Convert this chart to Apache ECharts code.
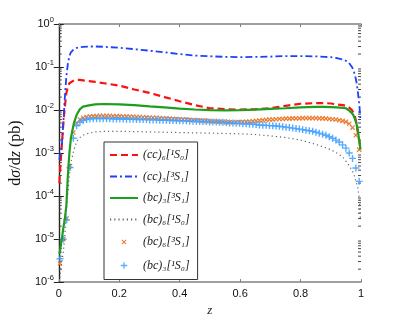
<!DOCTYPE html>
<html>
<head>
<meta charset="utf-8">
<script src="https://cdn.jsdelivr.net/npm/echarts@6/dist/echarts.min.js"></script>
<style>
  html, body { margin: 0; padding: 0; background: #fff; }
  #chart { width: 399px; height: 322px; }
</style>
</head>
<body>
<div id="chart"></div>
<script>
// z grid of the line curves
const zLine = [0.002, 0.005, 0.01, 0.015, 0.02, 0.025, 0.03, 0.035, 0.04, 0.05, 0.06, 0.07, 0.08,
  0.1, 0.12, 0.15, 0.2, 0.25, 0.3, 0.35, 0.4, 0.45, 0.5, 0.55, 0.6, 0.65, 0.7, 0.75, 0.8, 0.85,
  0.88, 0.9, 0.92, 0.94, 0.95, 0.96, 0.97, 0.975, 0.98, 0.985, 0.99, 0.995, 0.998];

const cc6_1S0 = [2e-4, 5e-4, 1.5e-3, 5e-3, 0.012, 0.025, 0.035, 0.042, 0.046, 0.049, 0.05, 0.05, 0.049,
  0.047, 0.045, 0.042, 0.037, 0.03, 0.025, 0.02, 0.016, 0.013, 0.011, 0.0105, 0.0102, 0.0105, 0.011, 0.0125, 0.014, 0.0145,
  0.0145, 0.0142, 0.0135, 0.013, 0.0125, 0.0115, 0.01, 0.0085, 0.007, 0.005, 0.0028, 0.0018, 0.0013];

const cc3_3S1 = [7e-4, 1e-3, 1.5e-3, 5e-3, 0.02, 0.06, 0.12, 0.18, 0.22, 0.26, 0.28, 0.29, 0.295,
  0.3, 0.3, 0.295, 0.28, 0.26, 0.24, 0.22, 0.2, 0.185, 0.178, 0.172, 0.17, 0.172, 0.175, 0.18, 0.18, 0.177,
  0.172, 0.17, 0.162, 0.15, 0.14, 0.125, 0.1, 0.085, 0.065, 0.045, 0.025, 0.012, 0.006];

const bc3_3S1 = [4.5e-6, 6e-6, 1e-5, 1.8e-5, 3e-5, 6e-5, 3e-4, 1e-3, 2.2e-3, 5e-3, 8e-3, 0.0105, 0.012,
  0.0128, 0.0135, 0.0138, 0.0135, 0.013, 0.0122, 0.0115, 0.0108, 0.0103, 0.01, 0.0098, 0.0099, 0.0102, 0.0106, 0.011, 0.0115, 0.0118,
  0.0118, 0.0117, 0.0115, 0.0112, 0.011, 0.0098, 0.0085, 0.0075, 0.0062, 0.0048, 0.0032, 0.0018, 0.0012];

const bc6_1S0 = [1e-6, 1.5e-6, 3e-6, 5e-6, 1.2e-5, 5e-5, 1.2e-4, 3e-4, 6e-4, 1.2e-3, 1.9e-3, 2.3e-3, 2.6e-3,
  2.9e-3, 3.1e-3, 3.2e-3, 3.2e-3, 3.15e-3, 3.1e-3, 3.05e-3, 3e-3, 2.95e-3, 2.9e-3, 2.85e-3, 2.8e-3, 2.7e-3, 2.5e-3, 2.3e-3, 2e-3, 1.6e-3,
  1.35e-3, 1.2e-3, 1e-3, 8e-4, 6.5e-4, 5.2e-4, 4e-4, 3.4e-4, 2.7e-4, 2e-4, 1.5e-4, 8e-5, 3e-5];

// z grid of the marker series
const zMark = [0.004, 0.015, 0.026, 0.037, 0.048, 0.059, 0.07, 0.081, 0.092, 0.103,
  0.114, 0.125, 0.136, 0.147, 0.158, 0.169, 0.18, 0.191, 0.202, 0.213,
  0.224, 0.235, 0.246, 0.257, 0.268, 0.279, 0.29, 0.301, 0.312, 0.323,
  0.334, 0.345, 0.356, 0.367, 0.378, 0.389, 0.4, 0.411, 0.422, 0.433,
  0.444, 0.455, 0.466, 0.477, 0.488, 0.499, 0.51, 0.521, 0.532, 0.543,
  0.554, 0.565, 0.576, 0.587, 0.598, 0.609, 0.62, 0.631, 0.642, 0.653,
  0.664, 0.675, 0.686, 0.697, 0.708, 0.719, 0.73, 0.741, 0.752, 0.763,
  0.774, 0.785, 0.796, 0.807, 0.818, 0.829, 0.84, 0.851, 0.862, 0.873,
  0.884, 0.895, 0.906, 0.917, 0.928, 0.939, 0.95, 0.961, 0.972, 0.983, 0.994];

const bc6_3S1 = [2.7e-6, 1e-5, 3e-5, 5e-4, 3e-3, 5e-3, 6e-3, 6.6e-3, 6.9e-3, 7.1e-3,
  7.2e-3, 7.2e-3, 7.3e-3, 7.3e-3, 7.3e-3, 7.3e-3, 7.2e-3, 7.2e-3, 7.2e-3, 7.1e-3,
  7.1e-3, 7.0e-3, 7.0e-3, 6.9e-3, 6.9e-3, 6.8e-3, 6.8e-3, 6.7e-3, 6.6e-3, 6.6e-3,
  6.5e-3, 6.4e-3, 6.4e-3, 6.3e-3, 6.2e-3, 6.2e-3, 6.1e-3, 6.0e-3, 6.0e-3, 5.9e-3,
  5.8e-3, 5.8e-3, 5.7e-3, 5.6e-3, 5.6e-3, 5.5e-3, 5.4e-3, 5.4e-3, 5.3e-3, 5.3e-3,
  5.2e-3, 5.2e-3, 5.2e-3, 5.2e-3, 5.2e-3, 5.3e-3, 5.3e-3, 5.4e-3, 5.5e-3, 5.6e-3,
  5.7e-3, 5.8e-3, 5.9e-3, 6.0e-3, 6.0e-3, 6.1e-3, 6.2e-3, 6.2e-3, 6.3e-3, 6.3e-3,
  6.4e-3, 6.4e-3, 6.4e-3, 6.5e-3, 6.5e-3, 6.5e-3, 6.5e-3, 6.5e-3, 6.4e-3, 6.4e-3,
  6.3e-3, 6.2e-3, 6.1e-3, 6.0e-3, 5.8e-3, 5.6e-3, 5.3e-3, 4.8e-3, 3.9e-3, 2.6e-3, 1.2e-3];

const bc3_1S0 = [3.5e-6, 1e-5, 2.8e-5, 4.6e-4, 2.2e-3, 4.3e-3, 5.2e-3, 5.7e-3, 6.0e-3, 6.2e-3,
  6.3e-3, 6.3e-3, 6.3e-3, 6.3e-3, 6.3e-3, 6.3e-3, 6.2e-3, 6.2e-3, 6.2e-3, 6.2e-3,
  6.1e-3, 6.1e-3, 6.1e-3, 6.0e-3, 6.0e-3, 6.0e-3, 6.0e-3, 5.9e-3, 5.9e-3, 5.9e-3,
  5.8e-3, 5.8e-3, 5.8e-3, 5.7e-3, 5.7e-3, 5.7e-3, 5.6e-3, 5.6e-3, 5.6e-3, 5.5e-3,
  5.5e-3, 5.5e-3, 5.4e-3, 5.4e-3, 5.4e-3, 5.3e-3, 5.3e-3, 5.3e-3, 5.2e-3, 5.2e-3,
  5.1e-3, 5.0e-3, 5.0e-3, 4.9e-3, 4.9e-3, 4.8e-3, 4.8e-3, 4.7e-3, 4.7e-3, 4.6e-3,
  4.5e-3, 4.45e-3, 4.4e-3, 4.35e-3, 4.3e-3, 4.25e-3, 4.2e-3, 4.1e-3, 4.0e-3, 3.9e-3,
  3.8e-3, 3.7e-3, 3.6e-3, 3.5e-3, 3.4e-3, 3.3e-3, 3.2e-3, 3.05e-3, 2.9e-3, 2.75e-3,
  2.6e-3, 2.4e-3, 2.2e-3, 2.0e-3, 1.8e-3, 1.55e-3, 1.3e-3, 1.0e-3, 7.5e-4, 4.5e-4, 2.2e-4];

const yMin = 1e-6;
const yMax = 1;

const names = ['(cc)₆[¹S₀]', '(cc)₃[³S₁]', '(bc)₃[³S₁]', '(bc)₆[¹S₀]', '(bc)₆[³S₁]', '(bc)₃[¹S₀]'];

const zip = (xs, ys) => xs.map((x, i) => [x, ys[i]]);

// minor ticks of the log axis (2..9 x 10^k)
const minorTicks = [];
for (let e = -6; e < 0; e++) {
  for (let m = 2; m <= 9; m++) minorTicks.push([0, m * Math.pow(10, e)]);
}

const plusPath = 'path://M4,0h2v4h4v2h-4v4h-2v-4h-4v-2h4z';
// same marks with empty margin so the legend icons stay small
const plusIcon = 'path://M-11,-6M21,16M4,0h2v4h4v2h-4v4h-2v-4h-4v-2h4z';
const crossIcon = 'path://M-16,-9M26,19M1.4,0L5,3.6L8.6,0L10,1.4L6.4,5L10,8.6L8.6,10L5,6.4L1.4,10L0,8.6L3.6,5L0,1.4z';
const serif = 'Liberation Serif, DejaVu Serif, serif';
const sans = 'Liberation Sans, Arial, sans-serif';

const chart = echarts.init(document.getElementById('chart'), null, { renderer: 'canvas' });

const yLabel = {
  show: true,
  margin: 5,
  fontFamily: sans,
  color: '#111',
  formatter: (v) => '{b|10}{s|' + Math.round(Math.log10(v)) + '}',
  rich: {
    b: { fontSize: 11, fontFamily: sans, color: '#111', lineHeight: 16 },
    s: { fontSize: 7.5, fontFamily: sans, color: '#111', lineHeight: 9, verticalAlign: 'top' },
  },
};

const hideSym = { opacity: 0 };

chart.setOption({
  animation: false,
  grid: { left: 52, right: 38, top: 24, bottom: 30 },
  legend: {
    data: [
      { name: names[0], itemStyle: hideSym },
      { name: names[1], itemStyle: hideSym },
      { name: names[2], itemStyle: hideSym },
      { name: names[3], itemStyle: hideSym },
      { name: names[4], icon: crossIcon },
      { name: names[5], icon: plusIcon },
    ],
    orient: 'vertical',
    left: 104,
    top: 142,
    padding: [7, 8, 7, 5],
    itemGap: 9.5,
    itemWidth: 28,
    itemHeight: 14,
    backgroundColor: '#fff',
    borderColor: '#333',
    borderWidth: 1,
    borderRadius: 0,
    textStyle: { fontFamily: serif, fontStyle: 'italic', fontSize: 12, color: '#222' },
  },
  xAxis: [
    {
      type: 'value', min: 0, max: 1, interval: 0.2,
      name: 'z', nameLocation: 'middle', nameGap: 15,
      nameTextStyle: { fontFamily: serif, fontStyle: 'italic', fontSize: 13, color: '#222' },
      axisLine: { lineStyle: { color: '#808080', width: 1.5 } },
      axisTick: { inside: true, length: 3, lineStyle: { color: '#808080' } },
      axisLabel: { margin: 6, fontFamily: sans, fontSize: 11, color: '#111' },
      splitLine: { show: false },
    },
    {
      type: 'value', min: 0, max: 1, interval: 0.2, position: 'top',
      axisLine: { lineStyle: { color: '#808080', width: 1.5 } },
      axisTick: { inside: true, length: 3, lineStyle: { color: '#808080' } },
      axisLabel: { show: false },
      splitLine: { show: false },
    },
  ],
  yAxis: [
    {
      type: 'log', logBase: 10, min: yMin, max: yMax, splitNumber: 6,
      name: '{r|d}{i|σ}{r|/d}{i|z}{r| (pb)}',
      nameLocation: 'middle', nameGap: 30, nameRotate: 90,
      nameTextStyle: {
        rich: {
          r: { fontFamily: serif, fontSize: 16, color: '#111' },
          i: { fontFamily: serif, fontStyle: 'italic', fontSize: 16, color: '#111' },
        },
      },
      axisLine: { lineStyle: { color: '#222', width: 1.2 } },
      axisTick: { inside: true, length: 5, lineStyle: { color: '#222' } },
      axisLabel: yLabel,
      splitLine: { show: false },
    },
    {
      type: 'log', logBase: 10, min: yMin, max: yMax, splitNumber: 6, position: 'right',
      axisLine: { lineStyle: { color: '#222', width: 1.2 } },
      axisTick: { inside: true, length: 5, lineStyle: { color: '#222' } },
      axisLabel: { show: false },
      splitLine: { show: false },
    },
  ],
  series: [
    {
      name: names[0], type: 'line', data: zip(zLine, cc6_1S0), showSymbol: false, symbol: 'none',
      lineStyle: { color: '#ff1010', width: 2.2, type: [7, 4] }, itemStyle: { color: '#ff1010' },
    },
    {
      name: names[1], type: 'line', data: zip(zLine, cc3_3S1), showSymbol: false, symbol: 'none',
      lineStyle: { color: '#2040ff', width: 1.8, type: [7, 3, 2, 3] }, itemStyle: { color: '#2040ff' },
    },
    {
      name: names[2], type: 'line', data: zip(zLine, bc3_3S1), showSymbol: false, symbol: 'none',
      lineStyle: { color: '#1e9e1e', width: 2.2 }, itemStyle: { color: '#1e9e1e' },
    },
    {
      name: names[3], type: 'line', data: zip(zLine, bc6_1S0), showSymbol: false, symbol: 'none',
      lineStyle: { color: '#666', width: 1.2, type: [1.2, 3] }, itemStyle: { color: '#666' },
    },
    {
      name: names[4], type: 'scatter', data: zip(zMark, bc6_3S1),
      symbol: plusPath, symbolRotate: 45, symbolSize: 6,
      itemStyle: { color: '#ee7a2e', opacity: 1 },
    },
    {
      name: names[5], type: 'scatter', data: zip(zMark, bc3_1S0),
      symbol: plusPath, symbolSize: 7,
      itemStyle: { color: '#45a3ff', opacity: 0.9 },
    },
    {
      type: 'custom', silent: true, data: minorTicks, z: 1,
      renderItem: (params, api) => {
        const v = api.value(1);
        const pl = api.coord([0, v]);
        const pr = api.coord([1, v]);
        return {
          type: 'group',
          children: [
            { type: 'line', shape: { x1: pl[0], y1: pl[1], x2: pl[0] + 3, y2: pl[1] }, style: { stroke: '#444', lineWidth: 1 } },
            { type: 'line', shape: { x1: pr[0] - 3, y1: pr[1], x2: pr[0], y2: pr[1] }, style: { stroke: '#444', lineWidth: 1 } },
          ],
        };
      },
    },
  ],
});
</script>
</body>
</html>
